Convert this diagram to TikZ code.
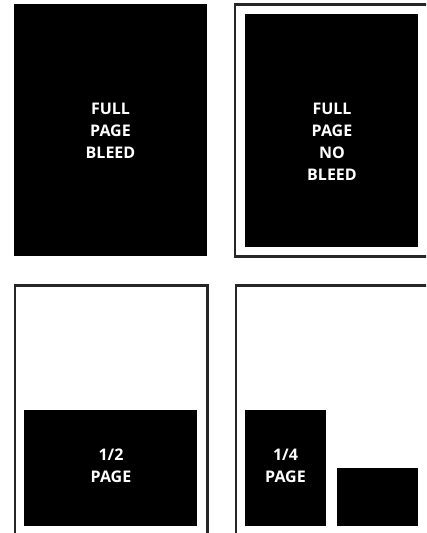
\documentclass[tikz,border=0pt]{standalone}
\usepackage{fontspec}
\setmainfont{Open Sans}
\usetikzlibrary{positioning}
\tikzset{
  lap/.style={fill=black},
  keret/.style={draw=black!85,line width=1.6pt},
  felirat/.style={text=white,font=\bfseries\fontsize{12}{16.5}\selectfont,align=center,inner sep=0pt},
}
\begin{document}
\begin{tikzpicture}[x=0.75pt,y=-0.75pt]
  \useasboundingbox (0,0) rectangle (426,533);
  \clip (0,0) rectangle (426,533);
  % teljes oldal, kifutóval
  \fill[lap] (14,4) rectangle (207,256);
  \node[felirat,anchor=north] (fpb) at (110.5,103) {FULL\\PAGE\\BLEED};
  % teljes oldal, kifutó nélkül
  \draw[keret] (235,4.5) rectangle (440,256.5);
  \fill[lap] (245,14) rectangle (418,247);
  \node[felirat,anchor=north] (fpnb) at (332,103) {FULL\\PAGE\\NO\\BLEED};
  % fél oldal
  \draw[keret] (15,285.5) rectangle (207.5,560);
  \fill[lap] (24,410) rectangle (197,526);
  \node[felirat,anchor=north] (fel) at (111,449) {1/2\\PAGE};
  % negyed oldal
  \draw[keret] (236,285.5) rectangle (440,560);
  \fill[lap] (245,410) rectangle (326,526);
  \fill[lap] (337,468) rectangle (418,526);
  \node[felirat,anchor=north] (negyed) at (285.5,449) {1/4\\PAGE};
\end{tikzpicture}
\end{document}
